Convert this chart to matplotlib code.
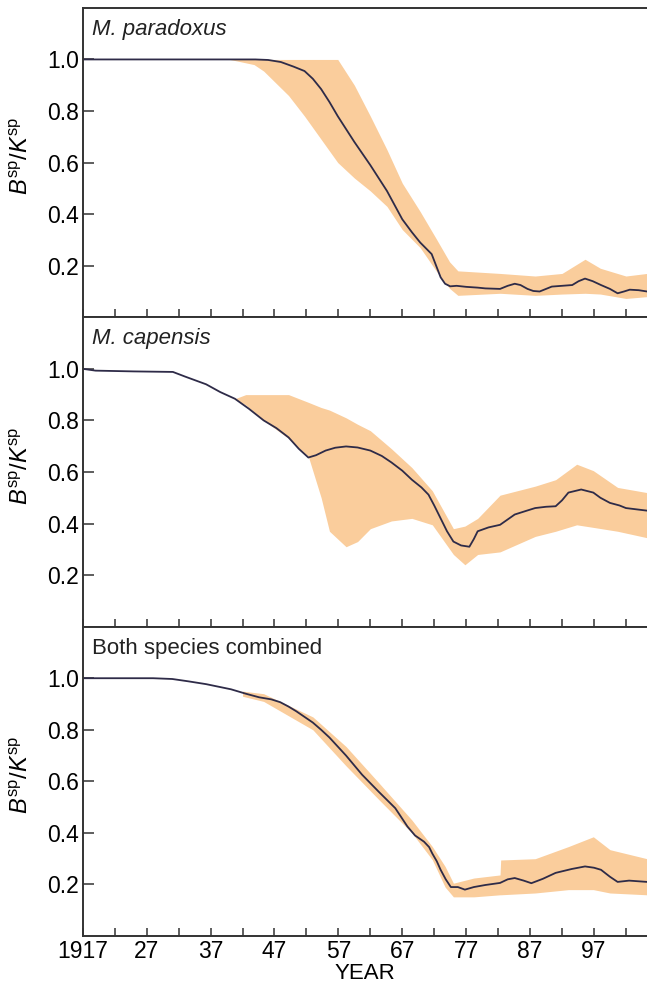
import numpy as np
import matplotlib
matplotlib.use("Agg")
import matplotlib.pyplot as plt

plt.rcParams['font.family'] = ['Liberation Sans', 'DejaVu Sans']
plt.rcParams['mathtext.fontset'] = 'custom'
plt.rcParams['mathtext.rm'] = 'Liberation Sans'
plt.rcParams['mathtext.it'] = 'Liberation Sans:italic'

# --- M. paradoxus ---
years_p = [1917, 1940, 1944, 1946, 1948, 1950, 1951.7, 1953, 1954.3, 1955.6, 1956.9,
           1959.5, 1962, 1964.6, 1967, 1968.5, 1969.8, 1970.8, 1971.6, 1972.3, 1973,
           1973.7, 1974.5, 1975.5, 1977, 1978.8, 1980, 1982.3, 1983.5, 1984.6, 1985.5,
           1986.6, 1987.5, 1988.5, 1989.5, 1990.4, 1992, 1993.6, 1994.6, 1995.6, 1996.8,
           1998.1, 1999.5, 2000.7, 2001.7, 2002.6, 2004, 2005.3]
line_p = [1.0, 1.0, 1.0, 0.998, 0.99, 0.972, 0.955, 0.925, 0.885, 0.835, 0.78,
          0.68, 0.59, 0.49, 0.38, 0.33, 0.29, 0.265, 0.245, 0.2, 0.155,
          0.13, 0.12, 0.122, 0.118, 0.115, 0.112, 0.11, 0.122, 0.13, 0.125,
          0.11, 0.102, 0.10, 0.11, 0.119, 0.122, 0.125, 0.14, 0.15, 0.14,
          0.125, 0.11, 0.093, 0.1, 0.107, 0.105, 0.10]
band_years_p = [1940, 1943.8, 1945.3, 1949.2, 1951.7, 1954.3, 1956.9, 1959.5, 1962, 1964.6,
                1967, 1969.8, 1972.3, 1974.4, 1975.7, 1982.3, 1987.8, 1992, 1995.6, 1998,
                2002, 2005.3]
upper_p = [1.0, 1.0, 1.0, 1.0, 1.0, 1.0, 1.0, 0.9, 0.78, 0.65,
           0.52, 0.41, 0.305, 0.215, 0.18, 0.17, 0.16, 0.17, 0.225, 0.19,
           0.16, 0.17]
lower_p = [1.0, 0.98, 0.955, 0.86, 0.78, 0.69, 0.60, 0.54, 0.49, 0.43,
           0.34, 0.27, 0.18, 0.112, 0.085, 0.093, 0.085, 0.09, 0.093, 0.09,
           0.073, 0.08]

# --- M. capensis ---
years_c = [1917, 1919, 1925, 1931.1, 1933, 1936.3, 1938.5, 1940.8, 1943, 1945.3,
           1947.3, 1949.2, 1950.8, 1952.3, 1953.5, 1955, 1956.5, 1958.2, 1960, 1962,
           1963.8, 1965.3, 1967, 1968.5, 1970, 1971.1, 1972, 1973, 1974, 1975,
           1976.2, 1977.5, 1978.2, 1978.8, 1980.5, 1982.3, 1984.6, 1986.5, 1987.8, 1989.5,
           1991, 1992, 1993, 1995, 1996.9, 1998, 1999.5, 2001, 2002, 2005.3]
line_c = [1.0, 0.993, 0.99, 0.988, 0.97, 0.94, 0.91, 0.884, 0.845, 0.80,
          0.77, 0.734, 0.69, 0.656, 0.665, 0.683, 0.694, 0.699, 0.695, 0.683,
          0.662, 0.637, 0.605, 0.57, 0.54, 0.512, 0.47, 0.42, 0.37, 0.33,
          0.315, 0.31, 0.34, 0.37, 0.385, 0.395, 0.435, 0.45, 0.46, 0.465,
          0.467, 0.49, 0.52, 0.532, 0.52, 0.50, 0.48, 0.47, 0.46, 0.45]
band_years_c = [1940.8, 1942.5, 1945.3, 1949.2, 1952.3, 1954.3, 1955.6, 1958.2, 1960, 1962,
                1965.3, 1968.5, 1971.7, 1975, 1976.8, 1978.8, 1982.3, 1987.8, 1991, 1994.3,
                1996.9, 2000.7, 2005.3]
upper_c = [0.884, 0.9, 0.9, 0.9, 0.87, 0.85, 0.84, 0.81, 0.785, 0.76,
           0.69, 0.617, 0.527, 0.38, 0.39, 0.42, 0.51, 0.545, 0.57, 0.63,
           0.605, 0.54, 0.52]
lower_c = [0.884, 0.86, 0.80, 0.73, 0.66, 0.5, 0.37, 0.31, 0.33, 0.38,
           0.41, 0.42, 0.395, 0.28, 0.24, 0.28, 0.29, 0.35, 0.37, 0.395,
           0.385, 0.37, 0.345]

# --- both species ---
years_b = [1917, 1928, 1931, 1933.5, 1936.3, 1940.2, 1942.5, 1944.6, 1946.5, 1947.9,
           1949.2, 1950.4, 1951.7, 1953, 1954.3, 1955.6, 1958.2, 1960.7, 1963.3, 1965.9,
           1967.8, 1969, 1970.4, 1971.2, 1971.7, 1972.4, 1973, 1973.8, 1974.6, 1975.7,
           1976.8, 1978.2, 1980, 1982.3, 1983.5, 1984.6, 1986, 1987.2, 1989, 1991,
           1993.5, 1995.6, 1997, 1998.1, 1999.5, 2000.7, 2002.5, 2005.3]
line_b = [1.0, 1.0, 0.997, 0.988, 0.977, 0.957, 0.94, 0.926, 0.918, 0.907,
          0.89, 0.872, 0.85, 0.828, 0.80, 0.77, 0.70, 0.626, 0.56, 0.496,
          0.425, 0.39, 0.366, 0.345, 0.32, 0.29, 0.257, 0.22, 0.19, 0.19,
          0.18, 0.19, 0.198, 0.206, 0.22, 0.225, 0.215, 0.205, 0.222, 0.245,
          0.26, 0.27, 0.265, 0.257, 0.23, 0.21, 0.215, 0.21]
band_years_b = [1942, 1945.3, 1953, 1958.2, 1963.3, 1968.5, 1971.7, 1973.7, 1975, 1978.2,
                1982.3, 1982.4, 1987.8, 1993, 1996.9, 1999.5, 2005.3]
upper_b = [0.95, 0.94, 0.85, 0.735, 0.595, 0.45, 0.347, 0.27, 0.205, 0.225,
           0.237, 0.295, 0.30, 0.347, 0.385, 0.335, 0.30]
lower_b = [0.93, 0.91, 0.80, 0.66, 0.53, 0.40, 0.296, 0.19, 0.152, 0.152,
           0.16, 0.16, 0.167, 0.18, 0.18, 0.167, 0.16]

titles = ['M. paradoxus', 'M. capensis', 'Both species combined']
title_style = ['italic', 'italic', 'normal']
x_ticks = list(range(1917, 2004, 5))
x_labels = ['1917' if t == 1917 else (str(t)[2:] if (t - 1917) % 10 == 0 else '') for t in x_ticks]
y_ticks = [0.2, 0.4, 0.6, 0.8, 1.0]

band_col = '#facd9c'
line_col = '#2e2b48'

fig = plt.figure(figsize=(6.47, 9.85), dpi=100)
fig.subplots_adjust(left=0.128, right=1.0, bottom=0.0497, top=0.992, hspace=0)
axes = fig.subplots(3, 1, sharex=True)

panels = [(years_p, line_p, band_years_p, upper_p, lower_p),
          (years_c, line_c, band_years_c, upper_c, lower_c),
          (years_b, line_b, band_years_b, upper_b, lower_b)]

for i, ax in enumerate(axes):
    yrs, ln, byrs, up, lo = panels[i]
    ax.fill_between(byrs, lo, up, color=band_col, lw=0)
    ax.plot(yrs, ln, color=line_col, lw=1.3)
    ax.set_xlim(1917, 2005.3)
    ax.set_ylim(0, 1.2)
    ax.set_yticks(y_ticks)
    ax.set_yticklabels(['%.1f' % v for v in y_ticks])
    ax.set_xticks(x_ticks)
    ax.set_xticklabels(x_labels)
    ax.tick_params(axis='both', direction='in', length=6, width=1.1, labelsize=16.5, color='#333333')
    ax.tick_params(axis='y', length=8, pad=3)
    ax.spines['right'].set_visible(False)
    for s in ['left', 'bottom', 'top']:
        ax.spines[s].set_linewidth(1.4)
        ax.spines[s].set_color('#333333')
    ax.set_ylabel(r'$B^{\rm sp}/K^{\rm sp}$', fontsize=17)
    ax.yaxis.set_label_coords(-0.088, 0.52)
    ax.text(0.016, 0.93, titles[i], transform=ax.transAxes, fontsize=16,
            style=title_style[i], va='center', ha='left', color='#222222')

axes[2].set_xlabel('YEAR', fontsize=16, labelpad=0)
axes[2].tick_params(axis='x', pad=3)

fig.savefig('out.png', dpi=100)
